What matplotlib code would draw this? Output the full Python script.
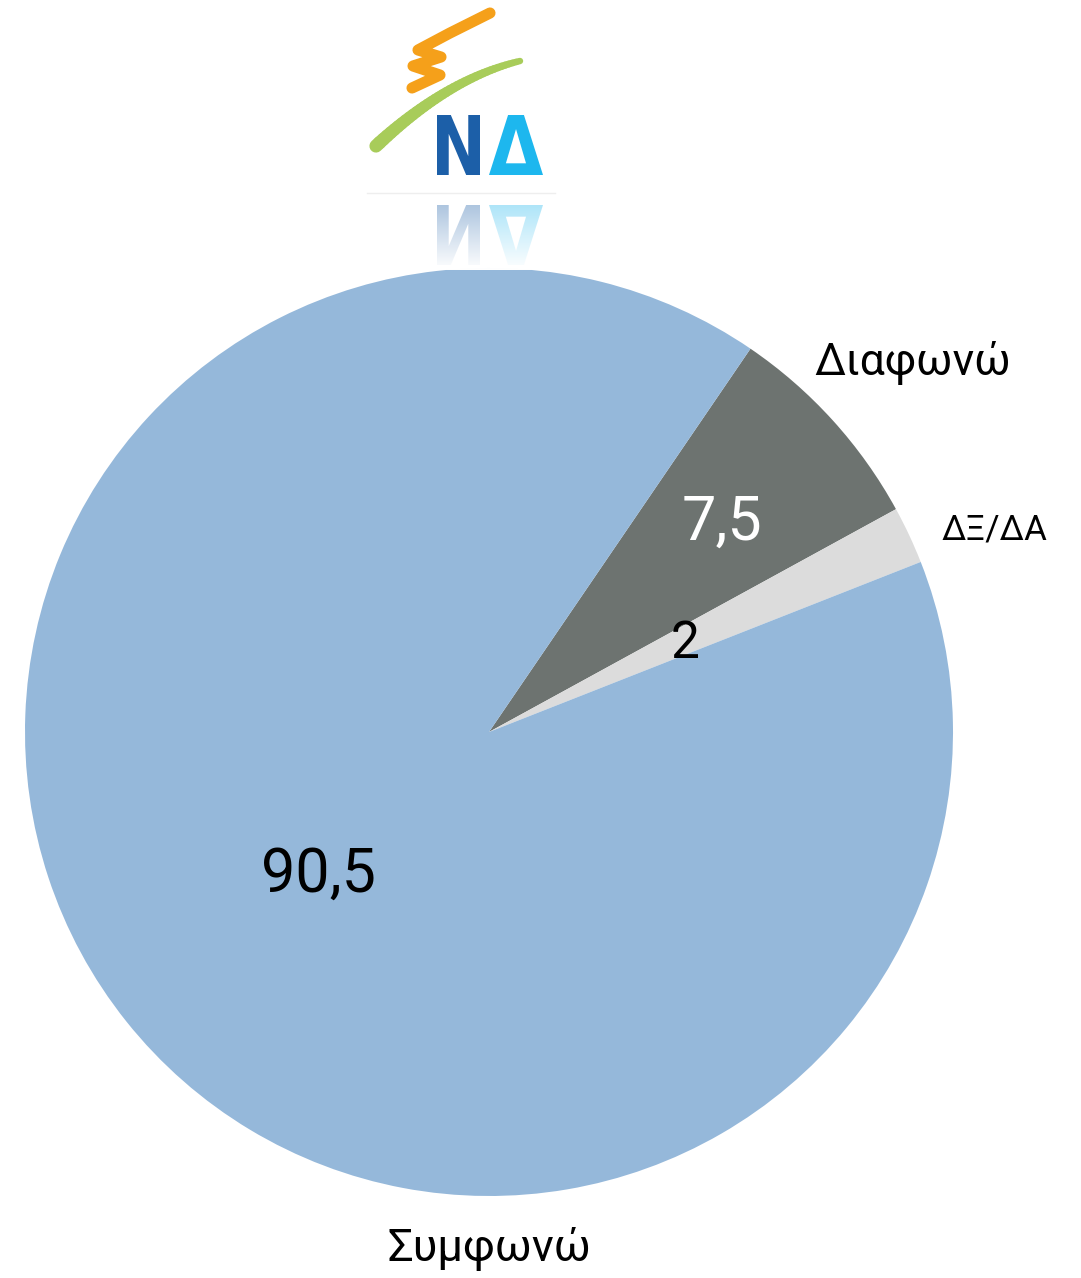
import numpy as np
import matplotlib
matplotlib.use("Agg")
import matplotlib.pyplot as plt
from matplotlib.textpath import TextPath
from matplotlib.patches import PathPatch
from matplotlib.font_manager import FontProperties
from matplotlib.transforms import Affine2D

# data (clockwise from the top boundary)
labels = ["Διαφωνώ", "ΔΞ/ΔΑ", "Συμφωνώ"]
values = [7.5, 2, 90.5]
value_text = ["7,5", "2", "90,5"]
colors = ["#6d7370", "#dcdcdc", "#95b8da"]

W, H = 1081, 1278
def Y(y):
    return H - y

plt.rcParams['font.family'] = ['Roboto', 'DejaVu Sans']

fig = plt.figure(figsize=(W / 100, H / 100), dpi=100)
ax = fig.add_axes([0, 0, 1, 1])

cx, cy, r = 489, Y(732), 464
wedges, _ = ax.pie(values, colors=colors, startangle=55.7, counterclock=False,
                   center=(cx, cy), radius=r, wedgeprops=dict(linewidth=0))

ax.set_xlim(0, W)
ax.set_ylim(0, H)
ax.set_aspect('equal')
ax.axis('off')

# value labels inside the slices
val_pos = [(722, 540, 'white', 44), (685, 658, 'black', 37), (319, 892, 'black', 44)]
for txt, (x, y, c, fs) in zip(value_text, val_pos):
    ax.text(x, Y(y), txt, color=c, fontsize=fs, ha='center', va='baseline',
            fontweight='normal')

# category labels outside
lab_pos = [(913, 375, 32), (994, 540, 25), (489, 1261, 32.5)]
for txt, (x, y, fs) in zip(labels, lab_pos):
    ax.text(x, Y(y), txt, color='black', fontsize=fs, ha='center', va='baseline',
            fontweight='normal')

# ---------------- logo ----------------
fp = FontProperties(family='DejaVu Sans', weight='bold')

def letter(ch, x0, x1, ytop, ybot, color, flip=False, alpha=1.0):
    p = TextPath((0, 0), ch, size=100, prop=fp)
    e = p.get_extents()
    sx = (x1 - x0) / e.width
    sy = (ybot - ytop) / e.height
    if not flip:
        t = Affine2D().translate(-e.x0, -e.y0).scale(sx, sy).translate(x0, Y(ybot))
    else:
        t = Affine2D().translate(-e.x0, -e.y0).scale(sx, -sy).translate(x0, Y(ytop))
    ax.add_patch(PathPatch(t.transform_path(p), color=color, lw=0, alpha=alpha, zorder=3))

letter("Ν", 437, 480, 115, 175, "#1c5fa8")
letter("Δ", 489, 543, 115, 175, "#1db7ee")
letter("Ν", 437, 480, 205, 265, "#1c5fa8", flip=True, alpha=0.45)
letter("Δ", 489, 543, 205, 265, "#1db7ee", flip=True, alpha=0.45)

# fade out the reflection
grad = np.ones((100, 2, 4))
grad[:, :, 3] = np.linspace(0.15, 1.0, 100)[:, None]
ax.imshow(grad, extent=[420, 560, Y(270), Y(200)], origin='upper', zorder=4,
          aspect='auto', interpolation='bilinear')
ax.plot([367, 555], [Y(193), Y(193)], color='#eeeeee', lw=1, zorder=5)

# orange squiggle
ox = [412, 440, 413, 441, 418, 450, 490]
oy = [88, 75, 66, 57, 50, 33, 13]
ax.plot(ox, [Y(v) for v in oy], color='#f5a01a', lw=8, solid_capstyle='round',
        solid_joinstyle='round', zorder=3)

# green swoosh, thick at the left end
t = np.linspace(0, 1, 40)
gx = 376 + 144 * t
gy = 146 - 135 * t + 50 * t ** 2
for i in range(len(t) - 1):
    ax.plot(gx[i:i + 2], Y(gy[i:i + 2]), color='#a8cc5a', lw=9.5 - 5 * t[i],
            solid_capstyle='round', zorder=3)

fig.savefig("out.png", dpi=100, facecolor='white')
